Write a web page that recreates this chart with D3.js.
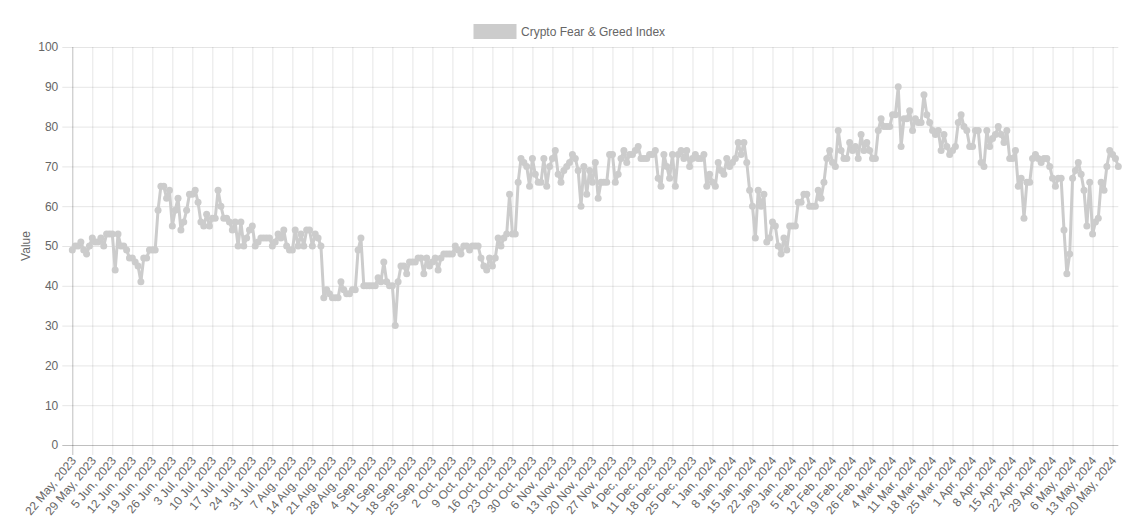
<!DOCTYPE html>
<html>
<head>
<meta charset="utf-8">
<script src="https://cdn.jsdelivr.net/npm/d3@7"></script>
<style>
  html, body { margin: 0; padding: 0; background: #fff; }
  svg { display: block; font-family: "Liberation Sans", Arial, Helvetica, sans-serif; }
</style>
</head>
<body>
<svg id="chart" width="1142" height="530"></svg>
<script>
// ---- data ----
const seriesName = "Crypto Fear & Greed Index";
const startDate = "2023-05-22";
const values = [
  49, 50, 50, 51, 49, 48, 50, 52, 51, 51,
  52, 50, 53, 53, 53, 44, 53, 50, 50, 49,
  47, 47, 46, 45, 41, 47, 47, 49, 49, 49,
  59, 65, 65, 62, 64, 55, 59, 62, 54, 56,
  59, 63, 63, 64, 61, 56, 55, 58, 55, 57,
  57, 64, 60, 57, 57, 56, 54, 56, 50, 56,
  50, 52, 54, 55, 50, 51, 52, 52, 52, 52,
  50, 51, 53, 52, 54, 50, 49, 49, 54, 50,
  53, 50, 54, 54, 50, 53, 52, 50, 37, 39,
  38, 37, 37, 37, 41, 39, 38, 38, 39, 39,
  49, 52, 40, 40, 40, 40, 40, 42, 41, 46,
  41, 40, 40, 30, 41, 45, 45, 43, 46, 46,
  46, 47, 47, 43, 47, 45, 46, 47, 44, 47,
  48, 48, 48, 48, 50, 49, 48, 50, 50, 49,
  50, 50, 50, 47, 45, 44, 47, 45, 47, 52,
  50, 52, 53, 63, 53, 53, 66, 72, 71, 70,
  65, 72, 68, 66, 66, 72, 65, 70, 72, 74,
  68, 66, 69, 70, 71, 73, 72, 69, 60, 70,
  63, 69, 66, 71, 62, 66, 66, 66, 73, 73,
  66, 68, 72, 74, 71, 73, 73, 74, 75, 72,
  72, 72, 73, 73, 74, 67, 65, 73, 70, 67,
  73, 65, 73, 74, 72, 74, 70, 72, 73, 72,
  72, 73, 65, 68, 66, 65, 71, 69, 68, 72,
  70, 71, 72, 76, 73, 76, 71, 64, 60, 52,
  64, 60, 63, 51, 52, 56, 55, 50, 48, 52,
  49, 55, 55, 55, 61, 61, 63, 63, 60, 60,
  60, 64, 62, 66, 72, 74, 71, 70, 79, 74,
  72, 72, 76, 74, 75, 72, 78, 74, 76, 74,
  72, 72, 79, 82, 80, 80, 80, 83, 83, 90,
  75, 82, 82, 84, 79, 82, 81, 81, 88, 83,
  81, 79, 78, 79, 74, 78, 75, 73, 74, 75,
  81, 83, 80, 79, 75, 75, 79, 79, 71, 70,
  79, 75, 77, 78, 80, 78, 76, 79, 72, 72,
  74, 65, 67, 57, 66, 66, 72, 73, 72, 71,
  72, 72, 70, 67, 65, 67, 67, 54, 43, 48,
  67, 69, 71, 68, 64, 55, 66, 53, 56, 57,
  66, 64, 70, 74, 73, 72, 70
];
const yTicks = [0, 10, 20, 30, 40, 50, 60, 70, 80, 90, 100];
const tickEvery = 7;
const yTitle = "Value";

// categories (one per day)
const parseDate = d3.timeParse("%Y-%m-%d");
const fmtDate = d3.timeFormat("%-d %b, %Y");
const day0 = parseDate(startDate);
const categories = values.map((v, i) => fmtDate(d3.timeDay.offset(day0, i)));
const xTickLabels = categories.filter((c, i) => i % tickEvery === 0);

// ---- layout ----
const plotLeft = 72.3, plotRight = 1118.3, plotTop = 47, plotBottom = 445;
const textColor = "#666";
const gridColor = "rgba(0,0,0,0.1)";
const zeroColor = "rgba(0,0,0,0.25)";
const lineColor = "rgb(204,204,204)";

const svg = d3.select("#chart");
const x = d3.scalePoint().domain(categories).range([plotLeft, plotRight]);
const y = d3.scaleLinear().domain([0, 100]).range([plotBottom, plotTop]);

// horizontal grid + y tick marks
const yAxis = d3.axisLeft(y).tickValues(yTicks).tickSize(10).tickPadding(4);
const gy = svg.append("g").attr("transform", `translate(${plotLeft},0)`).call(yAxis);
gy.select(".domain").remove();
gy.selectAll(".tick line").attr("stroke", d => d === 0 ? zeroColor : gridColor)
  .attr("x2", -10).attr("x1", plotRight - plotLeft);
gy.selectAll(".tick text").attr("fill", textColor).style("font-size", "12px")
  .attr("font-family", "Liberation Sans, Arial, sans-serif");

// vertical grid + x tick marks
const xAxis = d3.axisBottom(x).tickValues(xTickLabels).tickSize(10).tickPadding(0);
const gx = svg.append("g").attr("transform", `translate(0,${plotBottom})`).call(xAxis);
gx.select(".domain").remove();
gx.selectAll(".tick line").attr("stroke", (d, i) => i === 0 ? zeroColor : gridColor)
  .attr("y1", -(plotBottom - plotTop)).attr("y2", 10);
gx.selectAll(".tick text")
  .attr("fill", textColor).style("font-size", "12px")
  .attr("font-family", "Liberation Sans, Arial, sans-serif")
  .attr("text-anchor", "end")
  .attr("transform", "translate(4,16) rotate(-50)")
  .attr("y", 0).attr("dy", "0em");

// y axis title
svg.append("text")
  .attr("transform", `translate(30,${(plotTop + plotBottom) / 2}) rotate(-90)`)
  .attr("text-anchor", "middle")
  .attr("fill", textColor)
  .style("font-size", "12px")
  .text(yTitle);

// line
const line = d3.line().x((d, i) => x(categories[i])).y(d => y(d));
svg.append("path").datum(values)
  .attr("fill", "none").attr("stroke", lineColor).attr("stroke-width", 3)
  .attr("stroke-linejoin", "round")
  .attr("d", line);

svg.append("g").selectAll("circle").data(values).join("circle")
  .attr("cx", (d, i) => x(categories[i]))
  .attr("cy", d => y(d))
  .attr("r", 3.5)
  .attr("fill", lineColor);

// legend
const lg = svg.append("g");
lg.append("rect").attr("x", 475).attr("y", 25.5).attr("width", 40).attr("height", 12)
  .attr("fill", lineColor).attr("stroke", lineColor).attr("stroke-width", 3);
lg.append("text").attr("x", 521).attr("y", 35.5)
  .attr("fill", textColor).style("font-size", "12px").text(seriesName);
</script>
</body>
</html>
